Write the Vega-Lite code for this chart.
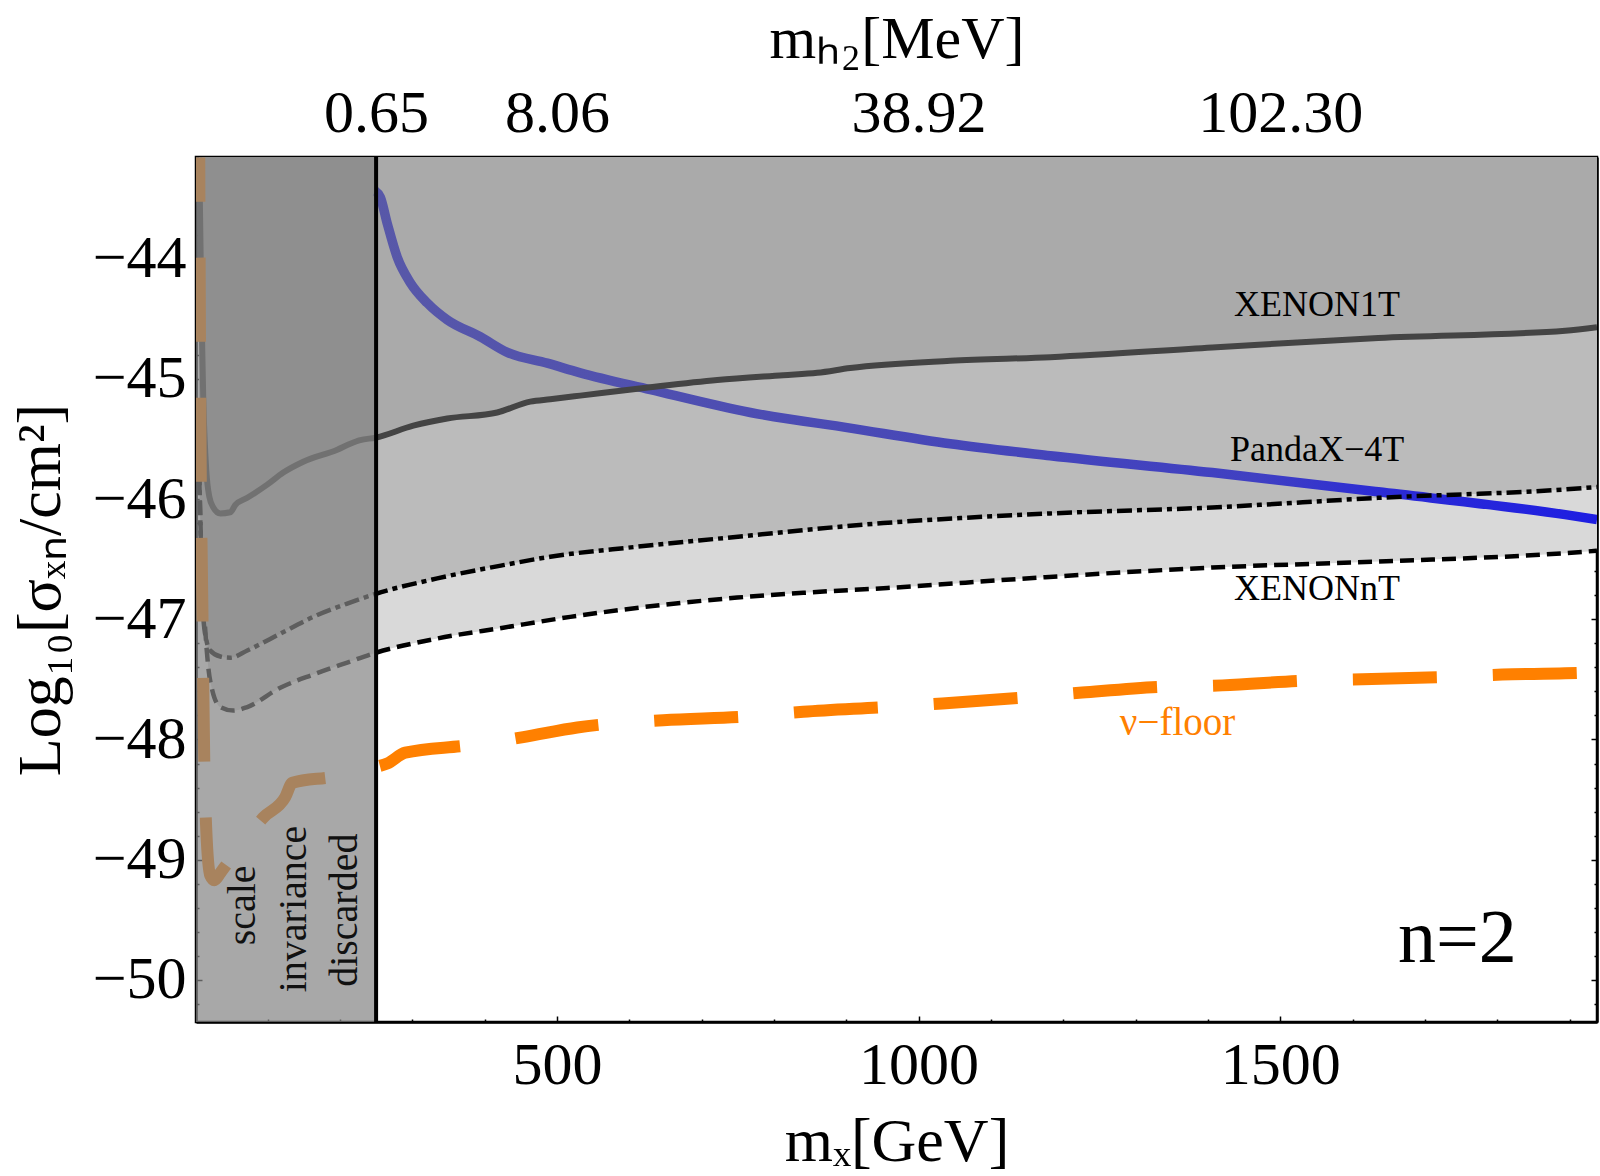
{
  "$schema": "https://vega.github.io/schema/vega-lite/v6.json",
  "width": 1401,
  "height": 865,
  "autosize": "none",
  "padding": {"left": 196, "top": 157, "right": 3, "bottom": 154},
  "background": "white",
  "config": {
    "view": {"stroke": "black", "strokeWidth": 2.5},
    "axis": {
      "grid": false, "domain": true, "domainColor": "black", "domainWidth": 2.5,
      "tickColor": "black", "tickWidth": 1.5,
      "labelFont": "Liberation Serif", "labelFontSize": 60, "labelColor": "black",
      "titleFont": "Liberation Serif", "titleFontSize": 62, "titleFontWeight": "normal", "titleColor": "black",
      "labelOverlap": false, "zindex": 1
    },
    "text": {"font": "Liberation Serif"}
  },
  "datasets": {
    "xenon1t": [
      {"x":5.5,"v":-43.16},{"x":8.3,"v":-44.35},{"x":11.1,"v":-45.18},{"x":15.2,"v":-45.76},{"x":19.4,"v":-45.98},{"x":24.9,"v":-46.07},{"x":34.6,"v":-46.12},{"x":48.4,"v":-46.11},{"x":55.3,"v":-46.05},{"x":71.9,"v":-45.99},{"x":99.5,"v":-45.88},{"x":121.7,"v":-45.78},{"x":149.3,"v":-45.69},{"x":196.3,"v":-45.59},{"x":214.3,"v":-45.54},{"x":228.1,"v":-45.51},{"x":248.9,"v":-45.49},{"x":301.4,"v":-45.39},{"x":348.4,"v":-45.33},{"x":417.5,"v":-45.28},{"x":463.2,"v":-45.19},{"x":490.8,"v":-45.17},{"x":532.3,"v":-45.14},{"x":629.1,"v":-45.07},{"x":721.7,"v":-45.01},{"x":812.9,"v":-44.97},{"x":860,"v":-44.95},{"x":905.6,"v":-44.91},{"x":1043.8,"v":-44.85},{"x":1182.1,"v":-44.82},{"x":1406.1,"v":-44.74},{"x":1635.6,"v":-44.66},{"x":1894.1,"v":-44.6},{"x":1938,"v":-44.57}
    ],
    "pandax": [
      {"x":5.5,"v":-45.76},{"x":8.3,"v":-46.51},{"x":11.1,"v":-46.98},{"x":15.2,"v":-47.17},{"x":20.7,"v":-47.26},{"x":34.6,"v":-47.31},{"x":48.4,"v":-47.32},{"x":71.9,"v":-47.26},{"x":117.5,"v":-47.12},{"x":163.1,"v":-46.98},{"x":210.1,"v":-46.87},{"x":248.9,"v":-46.79},{"x":334.6,"v":-46.66},{"x":425.8,"v":-46.55},{"x":490.8,"v":-46.48},{"x":605.6,"v":-46.4},{"x":721.7,"v":-46.33},{"x":951.2,"v":-46.2},{"x":1182.1,"v":-46.12},{"x":1406.1,"v":-46.07},{"x":1635.6,"v":-45.99},{"x":1894.1,"v":-45.92},{"x":1938,"v":-45.9}
    ],
    "xenonnt": [
      {"x":5.5,"v":-45.84},{"x":9.7,"v":-46.67},{"x":13.8,"v":-47.09},{"x":18,"v":-47.4},{"x":23.5,"v":-47.59},{"x":34.6,"v":-47.73},{"x":52.5,"v":-47.76},{"x":71.9,"v":-47.73},{"x":117.5,"v":-47.57},{"x":163.1,"v":-47.46},{"x":210.1,"v":-47.36},{"x":248.9,"v":-47.28},{"x":334.6,"v":-47.16},{"x":425.8,"v":-47.07},{"x":518.5,"v":-46.98},{"x":647,"v":-46.88},{"x":749.3,"v":-46.82},{"x":840.6,"v":-46.78},{"x":956.7,"v":-46.74},{"x":1175.2,"v":-46.65},{"x":1406.1,"v":-46.57},{"x":1635.6,"v":-46.52},{"x":1894.1,"v":-46.45},{"x":1938,"v":-46.43}
    ],
    "nufloor": [
      {"x":5.5,"v":-43.16},{"x":6.9,"v":-45.18},{"x":9.7,"v":-46.84},{"x":12.4,"v":-48.17},{"x":15.2,"v":-48.75},{"x":20.7,"v":-49.13},{"x":26.3,"v":-49.17},{"x":34.6,"v":-49.11},{"x":45.6,"v":-49.02},{"x":69.1,"v":-48.84},{"x":94,"v":-48.65},{"x":124.4,"v":-48.48},{"x":134.1,"v":-48.36},{"x":190.8,"v":-48.31},{"x":248.9,"v":-48.23},{"x":265.4,"v":-48.2},{"x":290.3,"v":-48.11},{"x":376,"v":-48.05},{"x":453.5,"v":-47.98},{"x":528.1,"v":-47.9},{"x":647,"v":-47.84},{"x":760.4,"v":-47.81},{"x":840.6,"v":-47.77},{"x":954,"v":-47.73},{"x":1032.8,"v":-47.7},{"x":1147.5,"v":-47.65},{"x":1226.3,"v":-47.61},{"x":1341.1,"v":-47.56},{"x":1419.9,"v":-47.55},{"x":1534.6,"v":-47.51},{"x":1613.4,"v":-47.5},{"x":1728.2,"v":-47.48},{"x":1807,"v":-47.46},{"x":1894.1,"v":-47.45},{"x":1938,"v":-47.44}
    ],
    "model": [
      {"x":249,"v":-43.44},{"x":255.8,"v":-43.49},{"x":265.5,"v":-43.71},{"x":279.3,"v":-43.99},{"x":297.3,"v":-44.2},{"x":320.8,"v":-44.37},{"x":348.4,"v":-44.51},{"x":394,"v":-44.65},{"x":431.4,"v":-44.78},{"x":486.7,"v":-44.87},{"x":532.3,"v":-44.95},{"x":629.1,"v":-45.09},{"x":767.3,"v":-45.28},{"x":905.6,"v":-45.41},{"x":1043.8,"v":-45.54},{"x":1182.1,"v":-45.64},{"x":1406.1,"v":-45.78},{"x":1635.6,"v":-45.94},{"x":1894.1,"v":-46.13},{"x":1938,"v":-46.17}
    ],
    "band": [{"x1": 1, "x2": 250, "y1": -50.35, "y2": -43.155}],
    "cut": [{"x": 250}],
    "labels": [
      {"x":1551,"v":-44.39,"t":"XENON1T","g":"exp"},
      {"x":1551,"v":-45.59,"t":"PandaX−4T","g":"exp"},
      {"x":1551,"v":-46.75,"t":"XENONnT","g":"exp"},
      {"x":1358,"v":-47.86,"t":"ν−floor","g":"nu"},
      {"x":1745,"v":-49.66,"t":"n=2","g":"n"},
      {"x":66,"v":-49.38,"t":"scale","g":"rot"},
      {"x":136,"v":-49.41,"t":"invariance","g":"rot"},
      {"x":207,"v":-49.42,"t":"discarded","g":"rot"}
    ]
  },
  "resolve": {"axis": {"x": "independent", "y": "independent"}},
  "layer": [
    {
      "data": {"name": "xenonnt"},
      "mark": {"type": "area", "color": "#d9d9d9", "clip": true, "interpolate": "monotone"},
      "encoding": {
        "x": {"field": "x", "type": "quantitative", "scale": {"domain": [1, 1938], "nice": false, "zero": false},
          "axis": {"orient": "bottom", "title": "mₓ[GeV]", "values": [100,200,300,400,500,600,700,800,900,1000,1100,1200,1300,1400,1500,1600,1700,1800,1900],
            "labelExpr": "datum.value % 500 == 0 ? '' + datum.value : ''",
            "tickSize": {"condition": {"test": "datum.value % 500 == 0", "value": -6}, "value": -3},
            "labelPadding": 20, "titlePadding": 13, "titleFontSize": 62}},
        "y": {"field": "v", "type": "quantitative", "scale": {"domain": [-50.35, -43.155], "nice": false, "zero": false},
          "axis": {"orient": "left", "title": "Log₁₀[σₓₙ/cm²]",
            "values": [-50.2,-50,-49.8,-49.6,-49.4,-49.2,-49,-48.8,-48.6,-48.4,-48.2,-48,-47.8,-47.6,-47.4,-47.2,-47,-46.8,-46.6,-46.4,-46.2,-46,-45.8,-45.6,-45.4,-45.2,-45,-44.8,-44.6,-44.4,-44.2,-44,-43.8,-43.6,-43.4,-43.2],
            "labelExpr": "abs(datum.value - round(datum.value)) < 0.01 ? '−' + abs(round(datum.value)) : ''",
            "tickSize": {"condition": {"test": "abs(datum.value - round(datum.value)) < 0.01", "value": -6}, "value": -3},
            "labelPadding": 16, "titlePadding": 20, "titleFontSize": 62}},
        "y2": {"datum": -43.155}
      }
    },
    {
      "data": {"name": "pandax"},
      "mark": {"type": "area", "color": "#bbbbbb", "clip": true, "interpolate": "monotone"},
      "encoding": {
        "x": {"field": "x", "type": "quantitative",
          "axis": {"orient": "top", "title": "mₕ₂[MeV]", "values": [250, 500, 1000, 1500],
            "labelExpr": "datum.value == 250 ? '0.65' : datum.value == 500 ? '8.06' : datum.value == 1000 ? '38.92' : '102.30'",
            "tickSize": -5, "labelPadding": 18, "titlePadding": 13, "titleFontSize": 60}},
        "y": {"field": "v", "type": "quantitative",
          "axis": {"orient": "right", "title": null, "labels": false,
            "values": [-50.2,-50,-49.8,-49.6,-49.4,-49.2,-49,-48.8,-48.6,-48.4,-48.2,-48,-47.8,-47.6,-47.4,-47.2,-47,-46.8,-46.6,-46.4,-46.2,-46,-45.8,-45.6,-45.4,-45.2,-45,-44.8,-44.6,-44.4,-44.2,-44,-43.8,-43.6,-43.4,-43.2],
            "tickSize": {"condition": {"test": "abs(datum.value - round(datum.value)) < 0.01", "value": -6}, "value": -3}}},
        "y2": {"datum": -43.155}
      }
    },
    {
      "data": {"name": "xenon1t"},
      "mark": {"type": "area", "color": "#aaaaaa", "clip": true, "interpolate": "monotone"},
      "encoding": {
        "x": {"field": "x", "type": "quantitative", "axis": null},
        "y": {"field": "v", "type": "quantitative", "axis": null},
        "y2": {"datum": -43.155}
      }
    },
    {
      "data": {"name": "model"},
      "mark": {"type": "line", "clip": true, "strokeWidth": 9.5, "interpolate": "monotone",
        "stroke": {"gradient": "linear", "x1": 0, "y1": 0, "x2": 1, "y2": 0,
          "stops": [{"offset": 0, "color": "#5858a8"}, {"offset": 0.5, "color": "#4646b9"}, {"offset": 0.72, "color": "#4040c2"}, {"offset": 0.82, "color": "#2c2cd4"}, {"offset": 1, "color": "#1e1ee2"}]}},
      "encoding": {
        "x": {"field": "x", "type": "quantitative", "axis": null},
        "y": {"field": "v", "type": "quantitative", "axis": null}
      }
    },
    {
      "data": {"name": "xenonnt"},
      "mark": {"type": "line", "clip": true, "color": "black", "strokeWidth": 4.5, "strokeDash": [14, 7], "interpolate": "monotone"},
      "encoding": {
        "x": {"field": "x", "type": "quantitative", "axis": null},
        "y": {"field": "v", "type": "quantitative", "axis": null}
      }
    },
    {
      "data": {"name": "pandax"},
      "mark": {"type": "line", "clip": true, "color": "black", "strokeWidth": 4.5, "strokeDash": [15, 5, 5, 5], "interpolate": "monotone"},
      "encoding": {
        "x": {"field": "x", "type": "quantitative", "axis": null},
        "y": {"field": "v", "type": "quantitative", "axis": null}
      }
    },
    {
      "data": {"name": "xenon1t"},
      "mark": {"type": "line", "clip": true, "color": "#444444", "strokeWidth": 6, "interpolate": "monotone"},
      "encoding": {
        "x": {"field": "x", "type": "quantitative", "axis": null},
        "y": {"field": "v", "type": "quantitative", "axis": null}
      }
    },
    {
      "data": {"name": "nufloor"},
      "mark": {"type": "line", "clip": true, "color": "#ff8000", "strokeWidth": 12, "strokeDash": [84, 56], "strokeDashOffset": 40, "interpolate": "monotone"},
      "encoding": {
        "x": {"field": "x", "type": "quantitative", "axis": null},
        "y": {"field": "v", "type": "quantitative", "axis": null}
      }
    },
    {
      "data": {"name": "band"},
      "mark": {"type": "rect", "color": "#858585", "opacity": 0.71, "clip": true},
      "encoding": {
        "x": {"field": "x1", "type": "quantitative", "axis": null},
        "x2": {"field": "x2"},
        "y": {"field": "y1", "type": "quantitative", "axis": null},
        "y2": {"field": "y2"}
      }
    },
    {
      "data": {"name": "cut"},
      "mark": {"type": "rule", "color": "black", "strokeWidth": 4},
      "encoding": {
        "x": {"field": "x", "type": "quantitative", "axis": null}
      }
    },
    {
      "data": {"name": "labels"},
      "transform": [{"filter": "datum.g == 'exp'"}],
      "mark": {"type": "text", "fontSize": 36, "color": "black", "align": "center", "baseline": "middle", "font": "Liberation Serif"},
      "encoding": {
        "x": {"field": "x", "type": "quantitative", "axis": null},
        "y": {"field": "v", "type": "quantitative", "axis": null},
        "text": {"field": "t"}
      }
    },
    {
      "data": {"name": "labels"},
      "transform": [{"filter": "datum.g == 'nu'"}],
      "mark": {"type": "text", "fontSize": 39, "color": "#ff8000", "align": "center", "baseline": "middle", "font": "Liberation Serif"},
      "encoding": {
        "x": {"field": "x", "type": "quantitative", "axis": null},
        "y": {"field": "v", "type": "quantitative", "axis": null},
        "text": {"field": "t"}
      }
    },
    {
      "data": {"name": "labels"},
      "transform": [{"filter": "datum.g == 'n'"}],
      "mark": {"type": "text", "fontSize": 76, "color": "black", "align": "center", "baseline": "middle", "font": "Liberation Serif"},
      "encoding": {
        "x": {"field": "x", "type": "quantitative", "axis": null},
        "y": {"field": "v", "type": "quantitative", "axis": null},
        "text": {"field": "t"}
      }
    },
    {
      "data": {"name": "labels"},
      "transform": [{"filter": "datum.g == 'rot'"}],
      "mark": {"type": "text", "fontSize": 40, "color": "#111111", "align": "center", "baseline": "middle", "angle": 270, "font": "Liberation Serif"},
      "encoding": {
        "x": {"field": "x", "type": "quantitative", "axis": null},
        "y": {"field": "v", "type": "quantitative", "axis": null},
        "text": {"field": "t"}
      }
    }
  ]
}
